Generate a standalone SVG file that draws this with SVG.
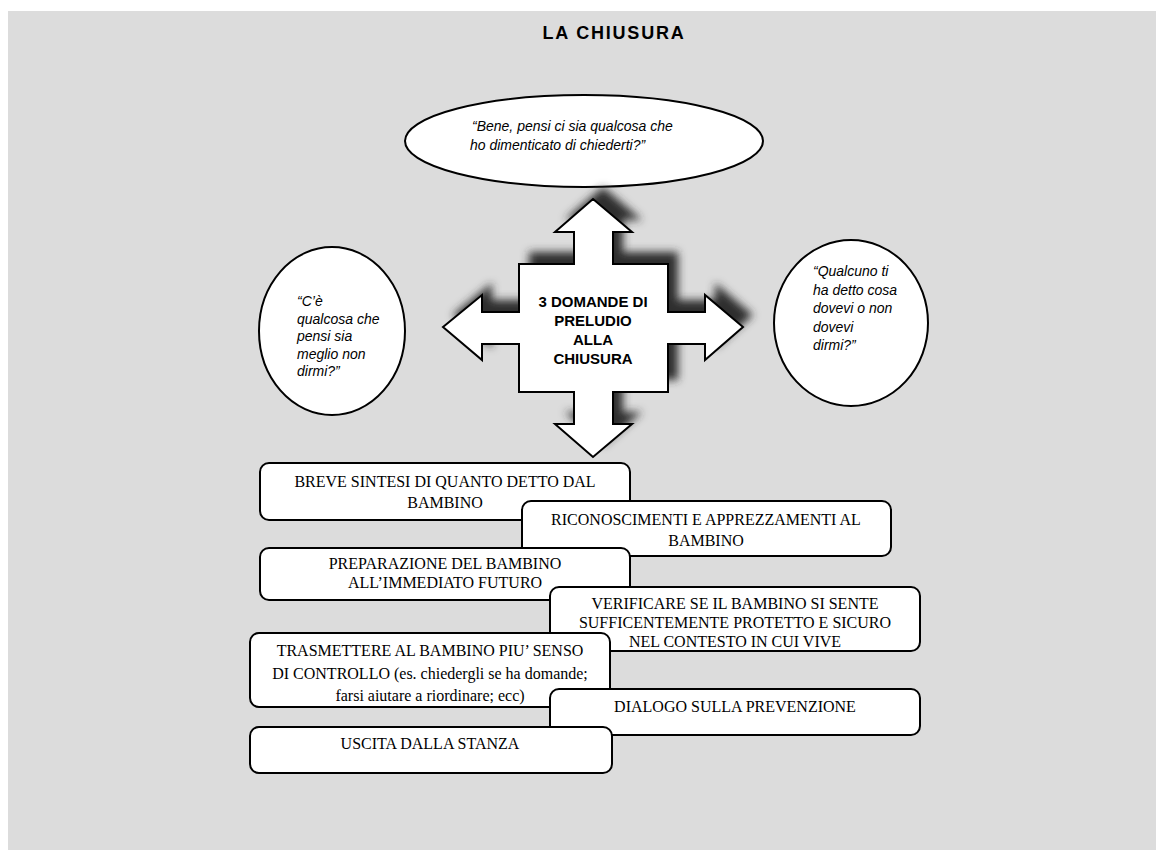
<svg xmlns="http://www.w3.org/2000/svg" width="1156" height="850" viewBox="0 0 1156 850">
<defs>
<style>
.q{font-family:"Liberation Sans",Arial,sans-serif;font-style:italic;font-size:14px;fill:#000}
.b{font-family:"Liberation Serif","Times New Roman",serif;font-size:16px;fill:#000;text-anchor:middle}
.box{fill:#fff;stroke:#000;stroke-width:2}
.ell{fill:#fff;stroke:#000;stroke-width:2}
</style>
<filter id="blur" x="-20%" y="-20%" width="140%" height="140%"><feGaussianBlur stdDeviation="4"/></filter>
<path id="cross" d="M593,199 L632,232 L613,232 L613,264 L668,264 L668,312 L705,312 L705,295 L743,327 L705,360 L705,344 L668,344 L668,392 L613,392 L613,424 L632,424 L593,457 L555,424 L574,424 L574,392 L519,392 L519,344 L482,344 L482,360 L443,327 L482,295 L482,312 L519,312 L519,264 L574,264 L574,232 L555,232 Z"/>
</defs>
<rect x="0" y="0" width="1156" height="850" fill="#fff"/>
<rect x="8" y="11" width="1148" height="839" fill="#dcdcdc"/>
<text x="614" y="39" font-family="Liberation Sans,Arial,sans-serif" font-weight="bold" font-size="18" text-anchor="middle" letter-spacing="1.8">LA CHIUSURA</text>

<g id="node-top">
<ellipse class="ell" cx="584" cy="141" rx="179" ry="46"/>
<text class="q" x="472" y="131">“Bene, pensi ci sia qualcosa che</text>
<text class="q" x="470" y="150">ho dimenticato di chiederti?”</text>
</g>

<g id="node-left">
<ellipse class="ell" cx="332" cy="331" rx="73" ry="84"/>
<text class="q" x="297" y="306">“C’è</text>
<text class="q" x="297" y="323.5">qualcosa che</text>
<text class="q" x="297" y="341">pensi sia</text>
<text class="q" x="297" y="358.5">meglio non</text>
<text class="q" x="297" y="376">dirmi?”</text>
</g>

<g id="node-right">
<ellipse class="ell" cx="851" cy="323" rx="77" ry="83"/>
<text class="q" x="813" y="276">“Qualcuno ti</text>
<text class="q" x="813" y="294.5">ha detto cosa</text>
<text class="q" x="813" y="313">dovevi o non</text>
<text class="q" x="813" y="331.5">dovevi</text>
<text class="q" x="813" y="350">dirmi?”</text>
</g>

<g id="node-center">
<use href="#cross" transform="translate(10,-12)" fill="#2e2e2e" filter="url(#blur)"/>
<use href="#cross" fill="#fff" stroke="#000" stroke-width="2" stroke-linejoin="miter"/>
<g font-family="Liberation Sans,Arial,sans-serif" font-weight="bold" font-size="15" text-anchor="middle">
<text x="593" y="307">3 DOMANDE DI</text>
<text x="593" y="326">PRELUDIO</text>
<text x="593" y="345">ALLA</text>
<text x="593" y="364">CHIUSURA</text>
</g>
</g>

<g id="connectors"></g>

<g id="box1">
<rect class="box" x="260" y="463" width="370" height="57" rx="9"/>
<text class="b" x="445" y="487">BREVE SINTESI DI QUANTO DETTO DAL</text>
<text class="b" x="445" y="508">BAMBINO</text>
</g>
<g id="box2">
<rect class="box" x="522" y="501" width="369" height="55" rx="9"/>
<text class="b" x="706" y="525">RICONOSCIMENTI E APPREZZAMENTI AL</text>
<text class="b" x="706" y="546">BAMBINO</text>
</g>
<g id="box3">
<rect class="box" x="260" y="548" width="370" height="52" rx="9"/>
<text class="b" x="445" y="569">PREPARAZIONE DEL BAMBINO</text>
<text class="b" x="445" y="588">ALL’IMMEDIATO FUTURO</text>
</g>
<g id="box4">
<rect class="box" x="550" y="587" width="370" height="64" rx="9"/>
<text class="b" x="735" y="609">VERIFICARE SE IL BAMBINO SI SENTE</text>
<text class="b" x="735" y="628">SUFFICENTEMENTE  PROTETTO E SICURO</text>
<text class="b" x="735" y="647">NEL CONTESTO IN CUI VIVE</text>
</g>
<g id="box5">
<rect class="box" x="250" y="633" width="360" height="74" rx="9"/>
<text class="b" x="430" y="656">TRASMETTERE  AL BAMBINO PIU’ SENSO</text>
<text class="b" x="430" y="679">DI CONTROLLO (es. chiedergli se ha domande;</text>
<text class="b" x="430" y="701">farsi aiutare a riordinare; ecc)</text>
</g>
<g id="box6">
<rect class="box" x="550" y="689" width="370" height="46" rx="9"/>
<text class="b" x="735" y="712">DIALOGO SULLA PREVENZIONE</text>
</g>
<g id="box7">
<rect class="box" x="250" y="727" width="362" height="46" rx="9"/>
<text class="b" x="430" y="749">USCITA DALLA STANZA</text>
</g>
</svg>
